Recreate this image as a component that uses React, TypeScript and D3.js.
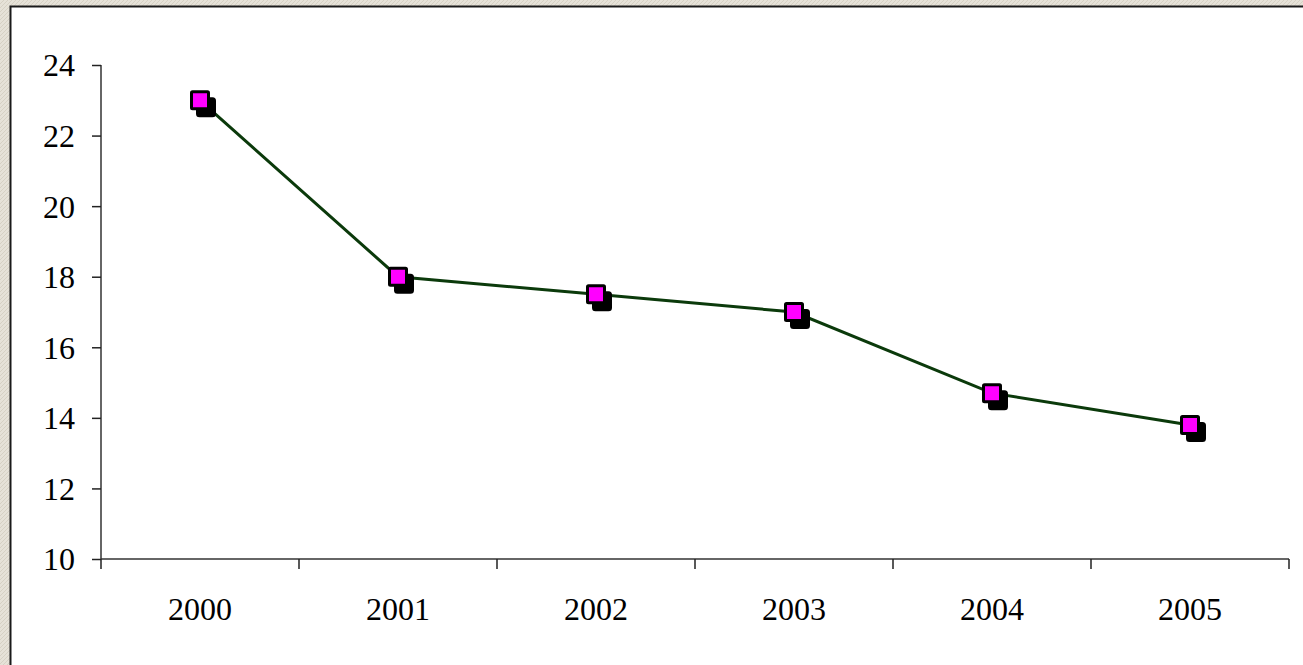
import React, { useEffect, useRef } from 'react';
import * as d3 from 'd3';

const years = ['2000', '2001', '2002', '2003', '2004', '2005'];
const values = [23.0, 18.0, 17.5, 17.0, 14.7, 13.8];
const yTicks = [10, 12, 14, 16, 18, 20, 22, 24];

const W = 1303;
const H = 665;

export default function App() {
  const svgRef = useRef<SVGSVGElement>(null);

  useEffect(() => {
    if (!svgRef.current) return;
    const svg = d3.select(svgRef.current);
    svg.selectAll('*').remove();

    // textured frame
    const defs = svg.append('defs');
    const pat = defs.append('pattern')
      .attr('id', 'frame-tex')
      .attr('width', 4)
      .attr('height', 4)
      .attr('patternUnits', 'userSpaceOnUse');
    pat.append('rect').attr('width', 4).attr('height', 4).attr('fill', '#e6e2d8');
    pat.append('path').attr('d', 'M0,4 L4,0').attr('stroke', '#d6d1c4').attr('stroke-width', 1);

    svg.append('rect').attr('width', W).attr('height', H).attr('fill', 'url(#frame-tex)');

    // white panel with dark edge
    svg.append('rect')
      .attr('x', 10.5).attr('y', 6.5)
      .attr('width', W + 20).attr('height', H + 20)
      .attr('fill', '#ffffff')
      .attr('stroke', '#1a1a1a')
      .attr('stroke-width', 2);

    const left = 101;
    const right = 1289;
    const top = 65;
    const bottom = 559;

    const x = d3.scaleBand<string>().domain(years).range([left, right]);
    const y = d3.scaleLinear().domain([10, 24]).range([bottom, top]);

    const font = '"Liberation Serif", "Times New Roman", serif';

    // y axis
    const yAxis = d3.axisLeft(y)
      .tickValues(yTicks)
      .tickSize(9)
      .tickPadding(17)
      .tickFormat(d => String(d));
    const gy = svg.append('g').attr('transform', `translate(${left},0)`).call(yAxis);
    gy.select('.domain').attr('stroke', '#333').attr('stroke-width', 1.5).attr('d', `M0,${top}V${bottom}`);
    gy.selectAll('.tick line').attr('stroke', '#222').attr('stroke-width', 1.5);
    gy.selectAll('.tick text')
      .attr('font-family', font)
      .attr('font-size', 32)
      .attr('fill', '#000')
      .attr('dy', '0.34em');

    // x axis
    const boundaries = [...years.map(d => x(d) as number), right];
    const gx = svg.append('g');
    gx.append('line')
      .attr('x1', left).attr('x2', right)
      .attr('y1', bottom).attr('y2', bottom)
      .attr('stroke', '#333').attr('stroke-width', 1.5);
    gx.selectAll('line.tk')
      .data(boundaries)
      .enter()
      .append('line')
      .attr('class', 'tk')
      .attr('x1', d => d).attr('x2', d => d)
      .attr('y1', bottom).attr('y2', bottom + 10)
      .attr('stroke', '#222').attr('stroke-width', 1.5);
    gx.selectAll('text')
      .data(years)
      .enter()
      .append('text')
      .attr('x', d => (x(d) as number) + x.bandwidth() / 2)
      .attr('y', 620)
      .attr('text-anchor', 'middle')
      .attr('font-family', font)
      .attr('font-size', 32)
      .attr('fill', '#000')
      .text(d => d);

    const cx = (d: string) => (x(d) as number) + x.bandwidth() / 2;

    // line
    const line = d3.line<number>()
      .x((_, i) => cx(years[i]))
      .y(d => y(d));
    svg.append('path')
      .datum(values)
      .attr('fill', 'none')
      .attr('stroke', '#0b3a0b')
      .attr('stroke-width', 3)
      .attr('d', line);

    // markers with shadow
    const s = 17;
    const mk = svg.append('g');
    mk.selectAll('rect.shadow')
      .data(values)
      .enter()
      .append('rect')
      .attr('class', 'shadow')
      .attr('x', (_, i) => cx(years[i]) - s / 2 + 6)
      .attr('y', d => y(d) - s / 2 + 7)
      .attr('width', s).attr('height', s)
      .attr('rx', 2)
      .attr('fill', '#000')
      .attr('stroke', '#000')
      .attr('stroke-width', 3);
    mk.selectAll('rect.mark')
      .data(values)
      .enter()
      .append('rect')
      .attr('class', 'mark')
      .attr('x', (_, i) => cx(years[i]) - s / 2)
      .attr('y', d => y(d) - s / 2)
      .attr('width', s).attr('height', s)
      .attr('rx', 1)
      .attr('fill', '#ff00ff')
      .attr('stroke', '#000')
      .attr('stroke-width', 3);
  }, []);

  return (
    <svg
      ref={svgRef}
      width={W}
      height={H}
      style={{ position: 'absolute', left: 0, top: 0, display: 'block' }}
    />
  );
}
